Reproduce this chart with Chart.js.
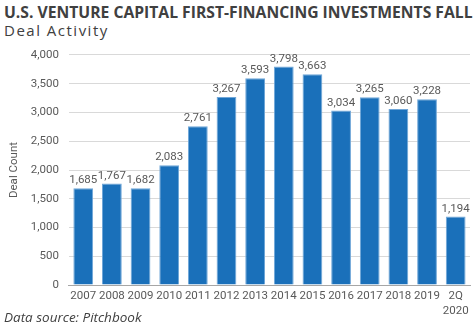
<!DOCTYPE html>
<html lang="en">
<head>
  <meta charset="UTF-8">
  <title>U.S. Venture Capital First-Financing Investments Fall</title>
  <script src="https://cdn.jsdelivr.net/npm/chart.js"></script>
  <style>
    html, body { margin: 0; padding: 0; background: #fff; }
    .wrap { position: relative; width: 475px; height: 327px; overflow: hidden; }
    .title { position: absolute; left: 4px; top: 1px; font: bold 15.7px "Open Sans", sans-serif; color: #404040; white-space: nowrap; }
    .subtitle { position: absolute; left: 4px; top: 20px; font: 15px "Open Sans", sans-serif; letter-spacing: 1.5px; color: #404040; }
    #dealChart { position: absolute; left: 0; top: 38px; }
    .source { position: absolute; left: 4px; top: 308px; font: italic 13.5px "Open Sans", sans-serif; color: #404040; }
  </style>
</head>
<body>
  <div class="wrap">
    <div class="title">U.S. VENTURE CAPITAL FIRST-FINANCING INVESTMENTS FALL</div>
    <div class="subtitle">Deal Activity</div>
    <canvas id="dealChart" width="475" height="285"></canvas>
    <div class="source">Data source: Pitchbook</div>
  </div>
<script>
const years = ['2007','2008','2009','2010','2011','2012','2013','2014','2015','2016','2017','2018','2019',['2Q','2020']];
const dealCounts = [1685, 1767, 1682, 2083, 2761, 3267, 3593, 3798, 3663, 3034, 3265, 3060, 3228, 1194];
const yTicks = [0, 500, 1000, 1500, 2000, 2500, 3000, 3500, 4000];

const tickFont = { family: 'Roboto, sans-serif', size: 11.5 };

// value labels above each bar
const barLabels = {
  id: 'barLabels',
  afterDatasetsDraw(chart) {
    const ctx = chart.ctx;
    const meta = chart.getDatasetMeta(0);
    ctx.save();
    ctx.font = '11.5px Roboto, sans-serif';
    ctx.fillStyle = '#595959';
    ctx.textAlign = 'center';
    ctx.textBaseline = 'bottom';
    meta.data.forEach((bar, i) => {
      ctx.fillText(dealCounts[i].toLocaleString('en-US'), bar.x, bar.y - 2);
    });
    ctx.restore();
  }
};

new Chart(document.getElementById('dealChart'), {
  type: 'bar',
  data: {
    labels: years,
    datasets: [{
      data: dealCounts,
      backgroundColor: '#1a70ba',
      borderColor: '#6fa6d8',
      borderWidth: 1,
      categoryPercentage: 1.0,
      barPercentage: 0.69
    }]
  },
  options: {
    responsive: false,
    animation: false,
    layout: { padding: { left: 0, right: 5, top: 6, bottom: 0 } },
    plugins: {
      legend: { display: false },
      tooltip: { enabled: false }
    },
    scales: {
      x: {
        grid: { display: false, drawTicks: false },
        border: { color: '#a6a6a6' },
        ticks: { color: '#595959', font: { family: 'Roboto, sans-serif', size: 11.5, lineHeight: 1.3 }, maxRotation: 0, autoSkip: false, padding: 4 }
      },
      y: {
        min: 0,
        max: 4000,
        afterBuildTicks(axis) { axis.ticks = yTicks.map(v => ({ value: v })); },
        grid: { color: '#d9d9d9', drawTicks: false },
        border: { display: false },
        ticks: {
          color: '#595959',
          font: tickFont,
          padding: 10,
          callback: v => v.toLocaleString('en-US')
        },
        title: {
          display: true,
          text: 'Deal Count',
          color: '#595959',
          font: tickFont,
          padding: { top: 7, bottom: 0 }
        }
      }
    }
  },
  plugins: [barLabels]
});
</script>
</body>
</html>
